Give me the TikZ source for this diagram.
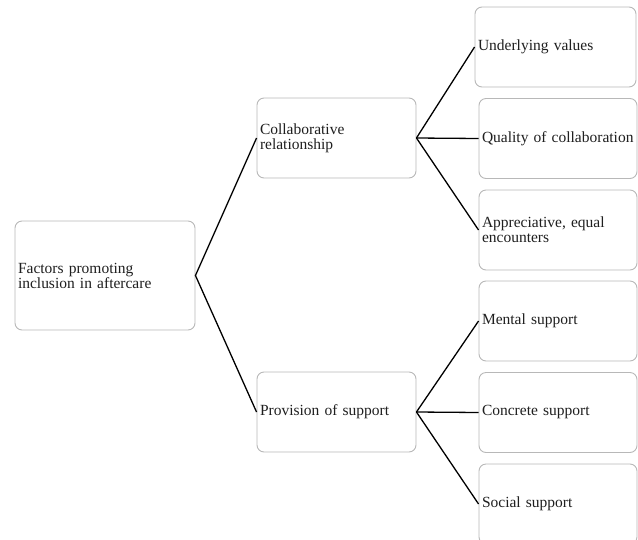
\documentclass[tikz,border=0pt]{standalone}
\usepackage{fontspec}
\setmainfont{Liberation Serif}
\begin{document}
\begin{tikzpicture}[x=1pt,y=-1pt,
  box/.style={draw=black!28, line width=0.9pt, rounded corners=7pt, fill=white,
    text=black!88, align=left, inner xsep=3pt, inner ysep=0pt,
    font=\fontsize{15.5}{15}\selectfont},
  leaf/.style={box, minimum width=158pt, minimum height=80pt, text width=152pt},
  mid/.style={box, minimum width=159pt, minimum height=80pt, text width=153pt},
  link/.style={draw=black, line width=1.3pt}]
\useasboundingbox (0,0) rectangle (638,539);
\node[box, minimum width=180pt, minimum height=109pt, text width=174pt] (root) at (105,275.5) {Factors promoting\\inclusion in aftercare};
\node[mid] (collab) at (336.5,138) {Collaborative\\relationship};
\node[mid] (prov) at (336.5,412) {Provision of support};
\node[leaf, minimum width=161pt, text width=155pt] (uv) at (555.5,47) {Underlying values};
\node[leaf] (qc) at (558,138.5) {Quality of collaboration};
\node[leaf] (ae) at (558,230) {Appreciative, equal\\encounters};
\node[leaf] (ms) at (558,321) {Mental support};
\node[leaf] (cs) at (558,412.5) {Concrete support};
\node[leaf] (ss) at (558,504) {Social support};
\draw[link] (collab.west) -- (root.east) -- (prov.west);
\draw[link] (collab.east) -- (uv.west);
\draw[link] (collab.east) -- (qc.west);
\draw[link] (collab.east) -- (ae.west);
\draw[link] (prov.east) -- (ms.west);
\draw[link] (prov.east) -- (cs.west);
\draw[link] (prov.east) -- (ss.west);
\end{tikzpicture}
\end{document}
